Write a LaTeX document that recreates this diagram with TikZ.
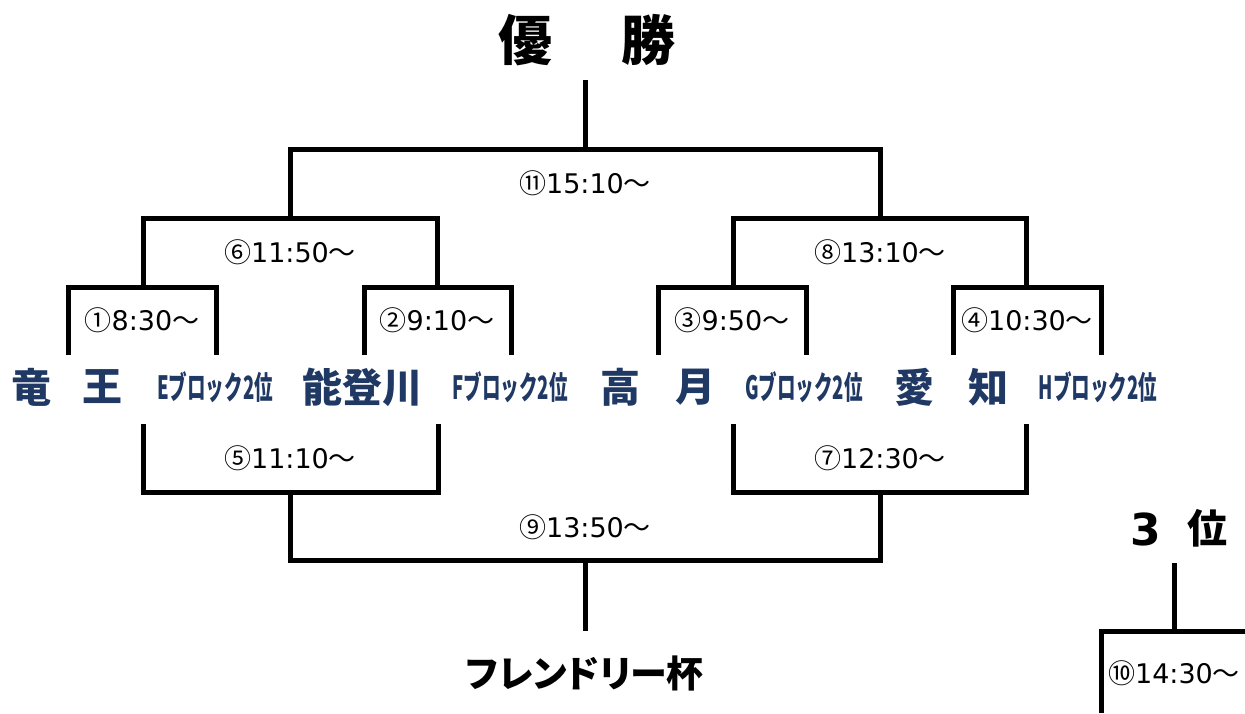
\documentclass[tikz,border=0pt]{standalone}
\usepackage{fontspec}
\usepackage{graphicx}
\newfontfamily\jp{Noto Sans CJK JP}
\newfontfamily\jpp[RawFeature=+palt]{Noto Sans CJK JP}
\newfontfamily\dv{DejaVu Sans}
\definecolor{navy}{RGB}{31,56,100}
\newcommand\tmlab[2]{{\jp #1}{\dv #2}{\jp ～}}
\newcommand\blklab[1]{\scalebox{0.58}[1]{#1ブロック2位}}
\tikzset{
  bline/.style={line width=5pt, line join=miter},
  tlab/.style={font=\fontsize{27}{29}\selectfont, text=black, inner sep=0pt},
  team/.style={font=\jp\bfseries\fontsize{40}{44}\selectfont, text=navy, inner sep=0pt},
  blk/.style={font=\jp\bfseries\fontsize{32}{36}\selectfont, text=navy, inner sep=0pt},
  ttl/.style={font=\jp\bfseries\fontsize{54}{58}\selectfont, text=black, inner sep=0pt},
}
\begin{document}
\begin{tikzpicture}[x=1pt,y=-1pt]
\useasboundingbox (0,0) rectangle (1245,713);
% titles
\node[ttl] (yu) at (525,40) {優};
\node[ttl] (sho) at (648,40) {勝};
\node[font=\jpp\bfseries\fontsize{37}{41}\selectfont, inner sep=0pt] (friendly) at (585,673) {フレンドリー杯};
\node[font=\dv\bfseries\fontsize{44}{48}\selectfont, inner sep=0pt] (three) at (1146,529) {3};
\node[font=\jp\bfseries\fontsize{40}{44}\selectfont, inner sep=0pt] (i) at (1207,528) {位};
% teams
\node[team] (t1a) at (32,387) {竜};
\node[team] (t1b) at (102,387) {王};
\node[blk] (t2) at (215,387) {\blklab{E}};
\node[team] (t3) at (362,387) {能登川};
\node[blk] (t4) at (510,387) {\blklab{F}};
\node[team] (t5a) at (620,387) {高};
\node[team] (t5b) at (695,387) {月};
\node[blk] (t6) at (804,387) {\blklab{G}};
\node[team] (t7a) at (914,387) {愛};
\node[team] (t7b) at (988,387) {知};
\node[blk] (t8) at (1098,387) {\blklab{H}};
% time labels
\node[tlab] (m1) at (142,320) {\tmlab{①}{8:30}};
\node[tlab] (m2) at (437,320) {\tmlab{②}{9:10}};
\node[tlab] (m3) at (732,320) {\tmlab{③}{9:50}};
\node[tlab] (m4) at (1027,320) {\tmlab{④}{10:30}};
\node[tlab] (m6) at (290,252) {\tmlab{⑥}{11:50}};
\node[tlab] (m8) at (880,252) {\tmlab{⑧}{13:10}};
\node[tlab] (m11) at (585,183) {\tmlab{⑪}{15:10}};
\node[tlab] (m5) at (290,458) {\tmlab{⑤}{11:10}};
\node[tlab] (m7) at (880,458) {\tmlab{⑦}{12:30}};
\node[tlab] (m9) at (585,527) {\tmlab{⑨}{13:50}};
\node[tlab] (m10) at (1174,673) {\tmlab{⑩}{14:30}};
% bracket coordinates
\coordinate (top) at (585,80);
\coordinate (bot) at (585,631);
\coordinate (tp3) at (1174,563);
% upper brackets
\draw[bline] (top) -- (585,149);
\draw[bline] (290,217) -- (290,149) -- (880,149) -- (880,217);
\draw[bline] (143,287) -- (143,218) -- (437,218) -- (437,287);
\draw[bline] (733,287) -- (733,218) -- (1026,218) -- (1026,287);
\draw[bline] (68,355) -- (68,287) -- (216,287) -- (216,355);
\draw[bline] (364,355) -- (364,287) -- (511,287) -- (511,355);
\draw[bline] (658,355) -- (658,287) -- (806,287) -- (806,355);
\draw[bline] (953,355) -- (953,287) -- (1101,287) -- (1101,355);
% lower brackets
\draw[bline] (143,424) -- (143,492) -- (438,492) -- (438,424);
\draw[bline] (733,424) -- (733,492) -- (1026,492) -- (1026,424);
\draw[bline] (290,492) -- (290,560) -- (880,560) -- (880,492);
\draw[bline] (585,560) -- (bot);
% third place
\draw[bline] (tp3) -- (1174,631);
\draw[bline] (1101,713) -- (1101,631) -- (1245,631);
\end{tikzpicture}
\end{document}
